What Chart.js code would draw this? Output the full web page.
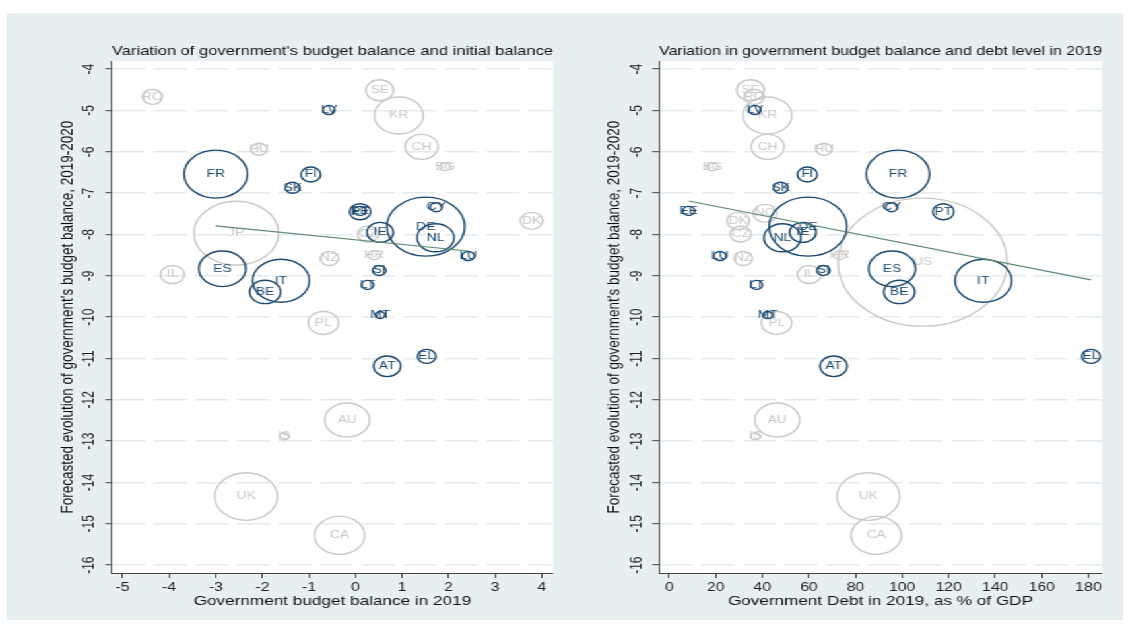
<!DOCTYPE html>
<html>
<head>
<meta charset="UTF-8">
<title>Government budget balance, 2019-2020</title>
<script src="https://cdn.jsdelivr.net/npm/chart.js"></script>
<style>
  html, body { margin: 0; background: #fff; }
  /* the two panels are laid out at 856px and widened to the full page */
  #stage { position: absolute; left: 0; top: 0; width: 856px; height: 633px; transform: scaleX(1.32); transform-origin: 0 0; }
  #panelBg { position: absolute; left: 5px; top: 13px; width: 846px; height: 607px; background: #e8eff1; }
  .panel { position: absolute; top: 0; width: 428px; height: 633px; }
</style>
</head>
<body>
<div id="stage">
  <div id="panelBg"></div>
  <div class="panel" style="left:0"><canvas id="balanceChart" width="428" height="633"></canvas></div>
  <div class="panel" style="left:428px"><canvas id="debtChart" width="428" height="633"></canvas></div>
</div>
<script>
// euro area members
const euroCodes = ['FR', 'LV', 'FI', 'SK', 'PT', 'EE', 'CY', 'DE', 'NL', 'IE', 'LU', 'ES', 'IT', 'BE', 'SI', 'LT', 'MT', 'AT', 'EL'];
const euroBalance2019 = [-3.0, -0.57, -0.96, -1.35, 0.1, 0.1, 1.73, 1.51, 1.72, 0.53, 2.42, -2.86, -1.6, -1.94, 0.51, 0.26, 0.53, 0.68, 1.53];
const euroDebt2019 = [98.2, 36.8, 59.3, 47.9, 117.7, 8.4, 95.5, 59.6, 48.6, 57.4, 21.8, 95.7, 134.9, 98.8, 66.2, 37.5, 42.3, 70.6, 181.1];
const euroForecast = [-6.54, -4.99, -6.55, -6.87, -7.45, -7.43, -7.34, -7.81, -8.08, -7.95, -8.52, -8.83, -9.12, -9.39, -8.87, -9.22, -9.95, -11.19, -10.95];
const euroSize = [24, 4.5, 7.5, 5.5, 8, 4.5, 4.5, 29.5, 14, 10, 4.5, 17.8, 21.5, 11.7, 5, 4.5, 3.5, 10.3, 7];

// other EU and OECD countries (null = off the axis range)
const otherCodes = ['RO', 'SE', 'KR', 'CH', 'HU', 'BG', 'DK', 'JP', 'CZ', 'NO', 'NZ', 'HR', 'IL', 'PL', 'AU', 'IS', 'UK', 'CA', 'US'];
const otherBalance2019 = [-4.36, 0.52, 0.93, 1.42, -2.07, 1.92, 3.78, -2.56, 0.27, null, -0.56, 0.40, -3.93, -0.69, -0.18, -1.53, -2.35, -0.34, null];
const otherDebt2019 = [36.5, 34.9, 42.2, 42.3, 66.5, 18.5, 29.6, null, 30.7, 41.2, 31.8, 73.3, 60.1, 46.1, 46.4, 37.1, 85.5, 88.9, 108.8];
const otherForecast = [-4.67, -4.51, -5.12, -5.88, -5.94, -6.36, -7.67, -7.97, -7.99, -7.49, -8.58, -8.50, -8.97, -10.14, -12.49, -12.88, -14.34, -15.28, -8.67];
const otherSize = [7.5, 10.5, 18.5, 12.5, 6, 4, 8.5, 32, 8, 9, 7, 4.5, 9, 11.5, 17, 3.5, 23.8, 19, 64];

// euro area linear fits (end points)
const balanceFitX = [-3.0, 2.42];
const balanceFitY = [-7.79, -8.40];
const debtFitX = [8.4, 181.1];
const debtFitY = [-7.19, -9.10];

// axis ticks
const forecastTicks = [-4, -5, -6, -7, -8, -9, -10, -11, -12, -13, -14, -15, -16];
const balanceTicks = [-5, -4, -3, -2, -1, 0, 1, 2, 3, 4];
const debtTicks = [0, 20, 40, 60, 80, 100, 120, 140, 160, 180];

const EURO_COLOR = '#1a476f';
const OTHER_COLOR = '#c9c9c9';
const FONT = '"Liberation Sans", Arial, sans-serif';

Chart.defaults.font.family = FONT;
Chart.defaults.color = '#222';

const plotBackground = {
  id: 'plotBackground',
  beforeDraw(chart) {
    const { ctx, chartArea: a } = chart;
    ctx.save();
    ctx.fillStyle = '#fff';
    ctx.fillRect(a.left, a.top, a.right - a.left, a.bottom - a.top);
    ctx.restore();
  }
};

// country code written in the middle of each bubble
const bubbleLabels = {
  id: 'bubbleLabels',
  afterDatasetDraw(chart, args) {
    const ds = chart.data.datasets[args.index];
    if (!ds.codes) return;
    const ctx = chart.ctx;
    ctx.save();
    ctx.font = '10.5px ' + FONT;
    ctx.fillStyle = ds.labelColor;
    ctx.textAlign = 'center';
    ctx.textBaseline = 'middle';
    args.meta.data.forEach((pt, i) => ctx.fillText(ds.codes[i], pt.x, pt.y));
    ctx.restore();
  }
};

function bubbleSet(codes, xs, ys, sizes, color, order) {
  const data = [], names = [];
  codes.forEach((c, i) => {
    if (xs[i] == null) return;
    data.push({ x: xs[i], y: ys[i], r: sizes[i] });
    names.push(c);
  });
  return {
    type: 'bubble', data, codes: names, labelColor: color, order,
    borderColor: color, backgroundColor: 'rgba(0,0,0,0)', borderWidth: 1.4, hoverRadius: 0
  };
}

function makePanel(id, cfg) {
  new Chart(document.getElementById(id), {
    type: 'bubble',
    data: {
      datasets: [
        {
          type: 'line', order: 0,
          data: [{ x: cfg.fitX[0], y: cfg.fitY[0] }, { x: cfg.fitX[1], y: cfg.fitY[1] }],
          borderColor: '#5f8a70', borderWidth: 1.2, pointRadius: 0, fill: false
        },
        bubbleSet(euroCodes, cfg.euroX, euroForecast, euroSize, EURO_COLOR, 1),
        bubbleSet(otherCodes, cfg.otherX, otherForecast, otherSize, OTHER_COLOR, 2)
      ]
    },
    options: {
      responsive: false,
      animation: false,
      events: [],
      layout: { padding: cfg.padding, autoPadding: false },
      plugins: {
        legend: { display: false },
        tooltip: { enabled: false },
        title: {
          display: true, text: cfg.title, fullSize: false, color: '#111',
          font: { size: 13.4, weight: 'normal' }, padding: { top: 0, bottom: 2 }
        }
      },
      scales: {
        x: {
          type: 'linear', min: cfg.xMin, max: cfg.xMax,
          afterBuildTicks: s => { s.ticks = cfg.xTicks.map(v => ({ value: v })); },
          afterFit: s => { s.height = 36; },
          ticks: { autoSkip: false, maxRotation: 0, padding: 2, font: { size: 12 }, color: '#222' },
          grid: { drawOnChartArea: false, tickColor: '#444', tickLength: 5, tickWidth: 1 },
          border: { color: '#444', width: 1 },
          title: { display: true, text: cfg.xTitle, color: '#111', font: { size: 13 }, padding: 0 }
        },
        y: {
          type: 'linear', min: -16.19, max: -3.81,
          afterBuildTicks: s => { s.ticks = forecastTicks.map(v => ({ value: v })); },
          afterFit: s => { s.width = 42; },
          ticks: { minRotation: 90, maxRotation: 90, crossAlign: 'center', padding: 3, font: { size: 12 }, color: '#222' },
          grid: { color: '#e3ebee', lineWidth: 1.4, tickColor: '#444', tickLength: 5, tickWidth: 1 },
          border: { color: '#444', width: 1, dash: [25, 6.5] },
          title: {
            display: true, text: "Forecasted evolution of government's budget balance, 2019-2020",
            color: '#111', font: { size: 13.5 }, padding: { top: 0, bottom: 0 }
          }
        }
      }
    },
    plugins: [plotBackground, bubbleLabels]
  });
}

makePanel('balanceChart', {
  title: "Variation of government's budget balance and initial balance",
  xTitle: 'Government budget balance in 2019',
  euroX: euroBalance2019, otherX: otherBalance2019,
  fitX: balanceFitX, fitY: balanceFitY,
  xMin: -5.23, xMax: 4.24, xTicks: balanceTicks,
  padding: { left: 42.8, right: 9.1, top: 43.2, bottom: 24 }
});

makePanel('debtChart', {
  title: 'Variation in government budget balance and debt level in 2019',
  xTitle: 'Government Debt in 2019, as % of GDP',
  euroX: euroDebt2019, otherX: otherDebt2019,
  fitX: debtFitX, fitY: debtFitY,
  xMin: -4.4, xMax: 185.8, xTicks: debtTicks,
  padding: { left: 29.2, right: 21.2, top: 43.2, bottom: 24 }
});
</script>
</body>
</html>
